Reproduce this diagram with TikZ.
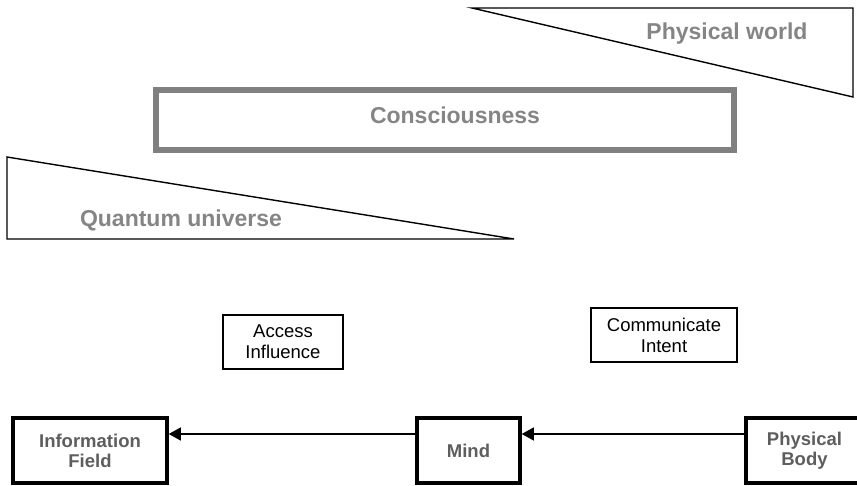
\documentclass[tikz,border=0pt]{standalone}
\usepackage{fontspec}
\setmainfont{Liberation Sans}
\usetikzlibrary{arrows.meta}
\definecolor{bigtext}{HTML}{858585}
\definecolor{boxtext}{HTML}{5E5E5E}
\definecolor{rimgray}{HTML}{808080}
\tikzset{
  mainbox/.style={draw, line width=3.5pt, fill=white, minimum height=65pt, align=center,
    text=boxtext, font=\fontsize{18.5}{20}\selectfont\bfseries},
  notebox/.style={draw, line width=1.2pt, minimum height=54pt, align=center,
    font=\fontsize{18.5}{21}\selectfont},
  bigword/.style={text=bigtext, font=\fontsize{23}{26}\selectfont\bfseries, anchor=base},
  flow/.style={line width=1.3pt, -{Triangle[length=12pt,width=13pt]}}
}
\begin{document}
\begin{tikzpicture}[x=1pt, y=-1pt]
            \useasboundingbox (0,0) rectangle (857,486);
            \clip (0,0) rectangle (857,486);
            \draw[line width=1.4pt] (472,8) -- (853,8) -- (853,97) -- cycle;
            \node[bigword] (world) at (727,40) {Physical world};
            \draw[rimgray, line width=6pt] (156,90) rectangle (734,150);
            \node[bigword] (consc) at (455,124) {Consciousness};
            \draw[line width=1.4pt] (7,157) -- (7,239) -- (514,239) -- cycle;
            \node[bigword] (quantum) at (181,227) {Quantum universe};
            \node[notebox, minimum width=120pt] (access) at (283,342) {Access\\Influence};
            \node[notebox, minimum width=146pt] (intent) at (664,335) {Communicate\\Intent};
            \node[mainbox, minimum width=154pt] (field) at (90,450.5) {Information\\Field};
            \node[mainbox, minimum width=103pt] (mind) at (468.5,450.5) {Mind};
            \node[mainbox, minimum width=117pt] (body) at (804.5,450.5) {Physical\\Body};
            \draw[flow] ([yshift=16.5pt]body.west) -- ([yshift=16.5pt]mind.east);
            \draw[flow] ([yshift=16.5pt]mind.west) -- ([yshift=16.5pt]field.east);
        \end{tikzpicture}
\end{document}
